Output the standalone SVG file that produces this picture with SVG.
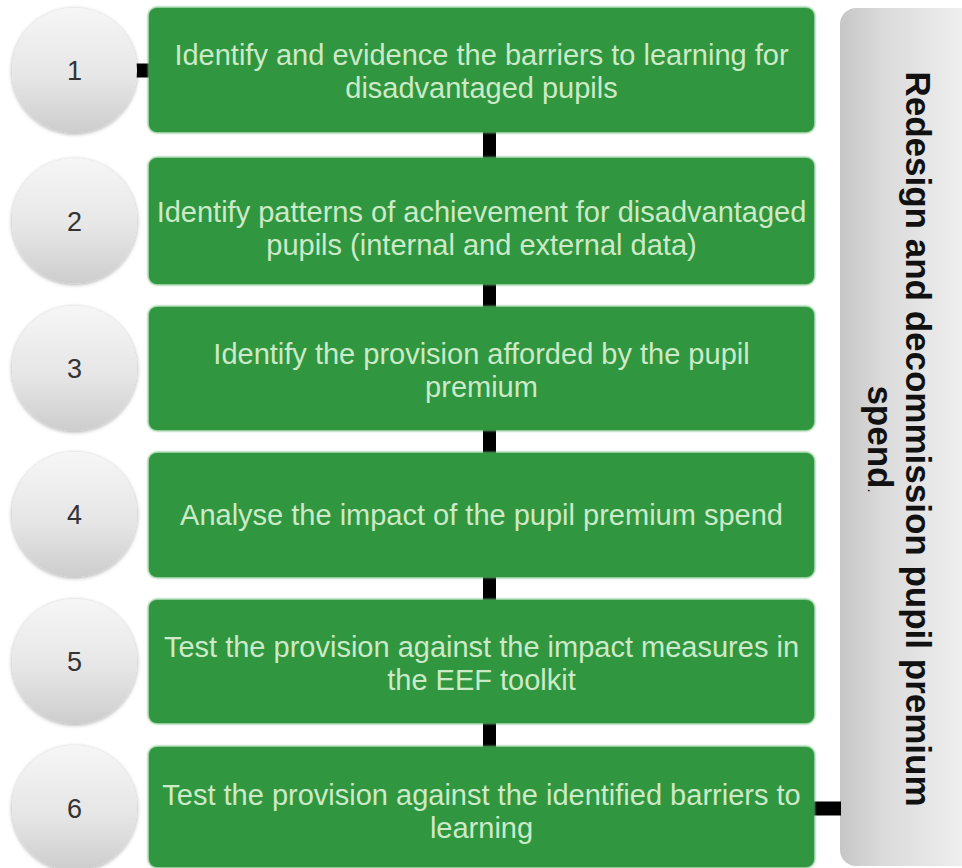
<svg xmlns="http://www.w3.org/2000/svg" width="962" height="868" viewBox="0 0 962 868">
  <defs>
    <linearGradient id="circGrad" x1="0" y1="0" x2="0" y2="1">
      <stop offset="0" stop-color="#f6f6f6"/>
      <stop offset="0.55" stop-color="#e6e6e6"/>
      <stop offset="1" stop-color="#cdcdcd"/>
    </linearGradient>
    <linearGradient id="panelGrad" x1="0" y1="0" x2="1" y2="0">
      <stop offset="0" stop-color="#c6c6c6"/>
      <stop offset="0.3" stop-color="#dadada"/>
      <stop offset="1" stop-color="#f3f3f3"/>
    </linearGradient>
    <filter id="shadow" x="-20%" y="-20%" width="140%" height="140%">
      <feGaussianBlur in="SourceAlpha" stdDeviation="2"/>
      <feOffset dx="0" dy="1" result="b"/>
      <feComponentTransfer><feFuncA type="linear" slope="0.35"/></feComponentTransfer>
      <feMerge><feMergeNode/><feMergeNode in="SourceGraphic"/></feMerge>
    </filter>
    <filter id="glow" x="-5%" y="-10%" width="110%" height="120%">
      <feGaussianBlur in="SourceGraphic" stdDeviation="1.2"/>
    </filter>
  </defs>
  <style>
    .circ { fill: url(#circGrad); filter: url(#shadow); }
    .num { font-family: "Liberation Sans", Arial, sans-serif; font-size: 27px; fill: #333333; text-anchor: middle; }
    .box { fill: #30963f; }
    .boxedge { fill: #5fb36c; filter: url(#glow); }
    .lbl { font-family: "Liberation Sans", Arial, sans-serif; font-size: 29px; fill: #cdeac8; text-anchor: middle; }
    .conn { stroke: #000000; stroke-width: 14; fill: none; }
    .vconn { stroke: #000000; stroke-width: 13; fill: none; }
    .side { font-family: "Liberation Sans", Arial, sans-serif; font-size: 35px; font-weight: bold; fill: #111111; text-anchor: middle; }
  </style>
  <rect width="962" height="868" fill="#ffffff"/>

  <g id="panel">
    <rect x="840" y="8" width="140" height="858" rx="16" fill="url(#panelGrad)"/>
    <text class="side" transform="translate(906,439) rotate(90)">Redesign and decommission pupil premium</text>
    <text class="side" transform="translate(868,439) rotate(90)">spend<tspan font-size="15" font-weight="normal">.</tspan></text>
  </g>

  <g id="connectors">
    <line class="conn" x1="134" y1="70.5" x2="150" y2="70.5"/>
    <line class="vconn" x1="489.5" y1="130" x2="489.5" y2="160"/>
    <line class="vconn" x1="489.5" y1="282" x2="489.5" y2="308"/>
    <line class="vconn" x1="489.5" y1="428" x2="489.5" y2="454"/>
    <line class="vconn" x1="489.5" y1="575" x2="489.5" y2="602"/>
    <line class="vconn" x1="489.5" y1="721" x2="489.5" y2="749"/>
    <line class="conn" x1="812" y1="808.5" x2="841" y2="808.5"/>
  </g>

  <g id="step1">
    <circle class="circ" cx="74.5" cy="70.5" r="62.5"/>
    <text class="num" x="74.5" y="80">1</text>
    <rect class="boxedge" x="148" y="7" width="667" height="126" rx="9"/>
    <rect class="box" x="149" y="8" width="665" height="124" rx="8"/>
    <text class="lbl" x="481.5" y="65">Identify and evidence the barriers to learning for</text>
    <text class="lbl" x="481.5" y="98">disadvantaged pupils</text>
  </g>

  <g id="step2">
    <circle class="circ" cx="74.5" cy="221" r="62.5"/>
    <text class="num" x="74.5" y="230.5">2</text>
    <rect class="boxedge" x="148" y="157" width="667" height="128" rx="9"/>
    <rect class="box" x="149" y="158" width="665" height="126" rx="8"/>
    <text class="lbl" x="481.5" y="222">Identify patterns of achievement for disadvantaged</text>
    <text class="lbl" x="481.5" y="255">pupils (internal and external data)</text>
  </g>

  <g id="step3">
    <circle class="circ" cx="74.5" cy="368.5" r="62.5"/>
    <text class="num" x="74.5" y="378">3</text>
    <rect class="boxedge" x="148" y="306" width="667" height="125" rx="9"/>
    <rect class="box" x="149" y="307" width="665" height="123" rx="8"/>
    <text class="lbl" x="481.5" y="364">Identify the provision afforded by the pupil</text>
    <text class="lbl" x="481.5" y="397">premium</text>
  </g>

  <g id="step4">
    <circle class="circ" cx="74.5" cy="514.5" r="62.5"/>
    <text class="num" x="74.5" y="524">4</text>
    <rect class="boxedge" x="148" y="452" width="667" height="126" rx="9"/>
    <rect class="box" x="149" y="453" width="665" height="124" rx="8"/>
    <text class="lbl" x="481.5" y="525">Analyse the impact of the pupil premium spend</text>
  </g>

  <g id="step5">
    <circle class="circ" cx="74.5" cy="661.5" r="62.5"/>
    <text class="num" x="74.5" y="671">5</text>
    <rect class="boxedge" x="148" y="599" width="667" height="125" rx="9"/>
    <rect class="box" x="149" y="600" width="665" height="123" rx="8"/>
    <text class="lbl" x="481.5" y="657">Test the provision against the impact measures in</text>
    <text class="lbl" x="481.5" y="690">the EEF toolkit</text>
  </g>

  <g id="step6">
    <circle class="circ" cx="74.5" cy="808" r="62.5"/>
    <text class="num" x="74.5" y="817.5">6</text>
    <rect class="boxedge" x="148" y="746" width="667" height="122" rx="9"/>
    <rect class="box" x="149" y="747" width="665" height="120" rx="8"/>
    <text class="lbl" x="481.5" y="805">Test the provision against the identified barriers to</text>
    <text class="lbl" x="481.5" y="838">learning</text>
  </g>
</svg>
